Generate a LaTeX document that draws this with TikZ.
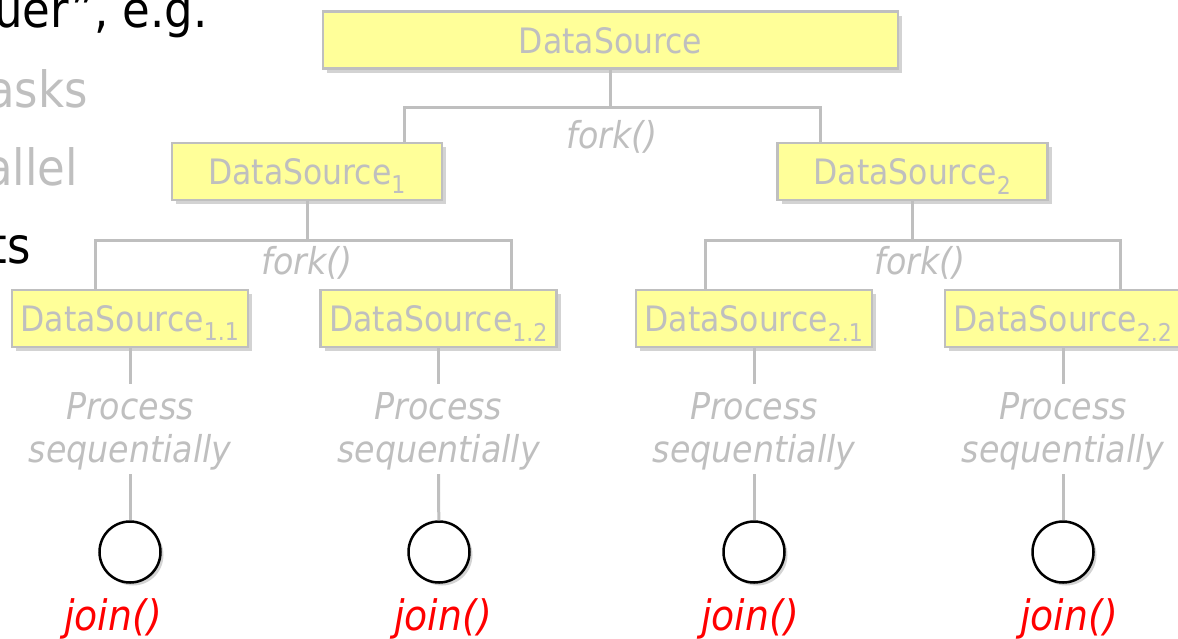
\documentclass[tikz,border=0pt]{standalone}
\usepackage{fontspec}
\setmainfont{DejaVu Sans Condensed}
\usetikzlibrary{positioning,shadows,calc}
\definecolor{srcfill}{RGB}{255,255,153}
\definecolor{lightgrey}{RGB}{191,191,191}
\definecolor{joinred}{RGB}{255,0,0}

\begin{document}
\begin{tikzpicture}[
            x=1pt,y=-1pt,
            every node/.style={inner sep=0pt},
            source/.style={draw=lightgrey,line width=2.5pt,fill=srcfill,minimum height=57pt,
                text=lightgrey,font=\fontsize{35}{40}\selectfont,text height=26pt,text depth=0pt,
                drop shadow={shadow xshift=4pt,shadow yshift=-4pt,opacity=0.35}},
            link/.style={draw=lightgrey,line width=3pt},
            label/.style={text=lightgrey,font=\itshape\fontsize{37}{43}\selectfont,align=center},
            joinpt/.style={circle,draw=black,line width=2.5pt,fill=white,minimum size=61pt,
                drop shadow={shadow xshift=3pt,shadow yshift=-3pt,opacity=0.35}},
            jointext/.style={anchor=base,text=joinred,font=\itshape\fontsize{42}{44}\selectfont},
            slide/.style={anchor=base east,font=\fontsize{50}{60}\selectfont}
        ]
        \useasboundingbox (0,0) rectangle (1178,638);
        \clip (0,0) rectangle (1178,638);

        % Slide text cut by the picture %
        \node[slide] (t1) at (208,27) {uer”, e.g.};
        \node[slide,text=lightgrey] (t2) at (88,107) {asks};
        \node[slide,text=lightgrey] (t3) at (78,185) {allel};
        \node[slide] (t4) at (31,263) {ts};

        % Draw sources %
        \node[source,minimum width=575pt] (ds) at (610.5,40) {DataSource};
        \node[source,minimum width=270pt] (ds1) at (307,171.5) {DataSource\textsubscript{1}};
        \node[source,minimum width=270pt] (ds2) at (912.5,171.5) {DataSource\textsubscript{2}};
        \node[source,minimum width=236pt] (ds11) at (130,318.5) {DataSource\textsubscript{1.1}};
        \node[source,minimum width=236pt] (ds12) at (438.5,318.5) {DataSource\textsubscript{1.2}};
        \node[source,minimum width=236pt] (ds21) at (754,318.5) {DataSource\textsubscript{2.1}};
        \node[source,minimum width=236pt] (ds22) at (1063,318.5) {DataSource\textsubscript{2.2}};

        % Draw forks %
        \coordinate (k0l) at (404,107);
        \coordinate (k0r) at (820,107);
        \coordinate (k1l) at (95,240);
        \coordinate (k1r) at (511,240);
        \coordinate (k2l) at (705,240);
        \coordinate (k2r) at (1120,240);
        \draw[link] (ds.south) -- (ds.south |- k0l);
        \draw[link] (ds1.north -| k0l) |- (k0r) -- (ds2.north -| k0r);
        \draw[link] (ds1.south) -- (ds1.south |- k1l);
        \draw[link] (ds11.north -| k1l) |- (k1r) -- (ds12.north -| k1r);
        \draw[link] (ds2.south) -- (ds2.south |- k2l);
        \draw[link] (ds21.north -| k2l) |- (k2r) -- (ds22.north -| k2r);
        \node[label] (f0) at (612,137) {fork()};
        \node[label] (f1) at (307,263) {fork()};
        \node[label] (f2) at (920,263) {fork()};

        % Sequential work %
        \node[label] (p11) at (130,431) {Process\\sequentially};
        \node[label] (p12) at (438.5,431) {Process\\sequentially};
        \node[label] (p21) at (754,431) {Process\\sequentially};
        \node[label] (p22) at (1063,431) {Process\\sequentially};

        % Draw joins %
        \node[joinpt] (j11) at (130,552) {};
        \node[joinpt] (j12) at (439,552) {};
        \node[joinpt] (j21) at (754,552) {};
        \node[joinpt] (j22) at (1063,552) {};
        \node[jointext] (jt11) at (113,630) {join()};
        \node[jointext] (jt12) at (443,630) {join()};
        \node[jointext] (jt21) at (750,630) {join()};
        \node[jointext] (jt22) at (1069,630) {join()};

        % Draw links %
        \draw[link] (ds11.south) -- ($(p11.north)+(0,-8)$);
        \draw[link] (ds12.south) -- ($(p12.north)+(0,-8)$);
        \draw[link] (ds21.south) -- ($(p21.north)+(0,-8)$);
        \draw[link] (ds22.south) -- ($(p22.north)+(0,-8)$);
        \draw[link] ($(p11.south)+(0,4)$) -- (j11);
        \draw[link] ($(p12.south)+(0,4)$) -- (j12);
        \draw[link] ($(p21.south)+(0,4)$) -- (j21);
        \draw[link] ($(p22.south)+(0,4)$) -- (j22);
\end{tikzpicture}
\end{document}
